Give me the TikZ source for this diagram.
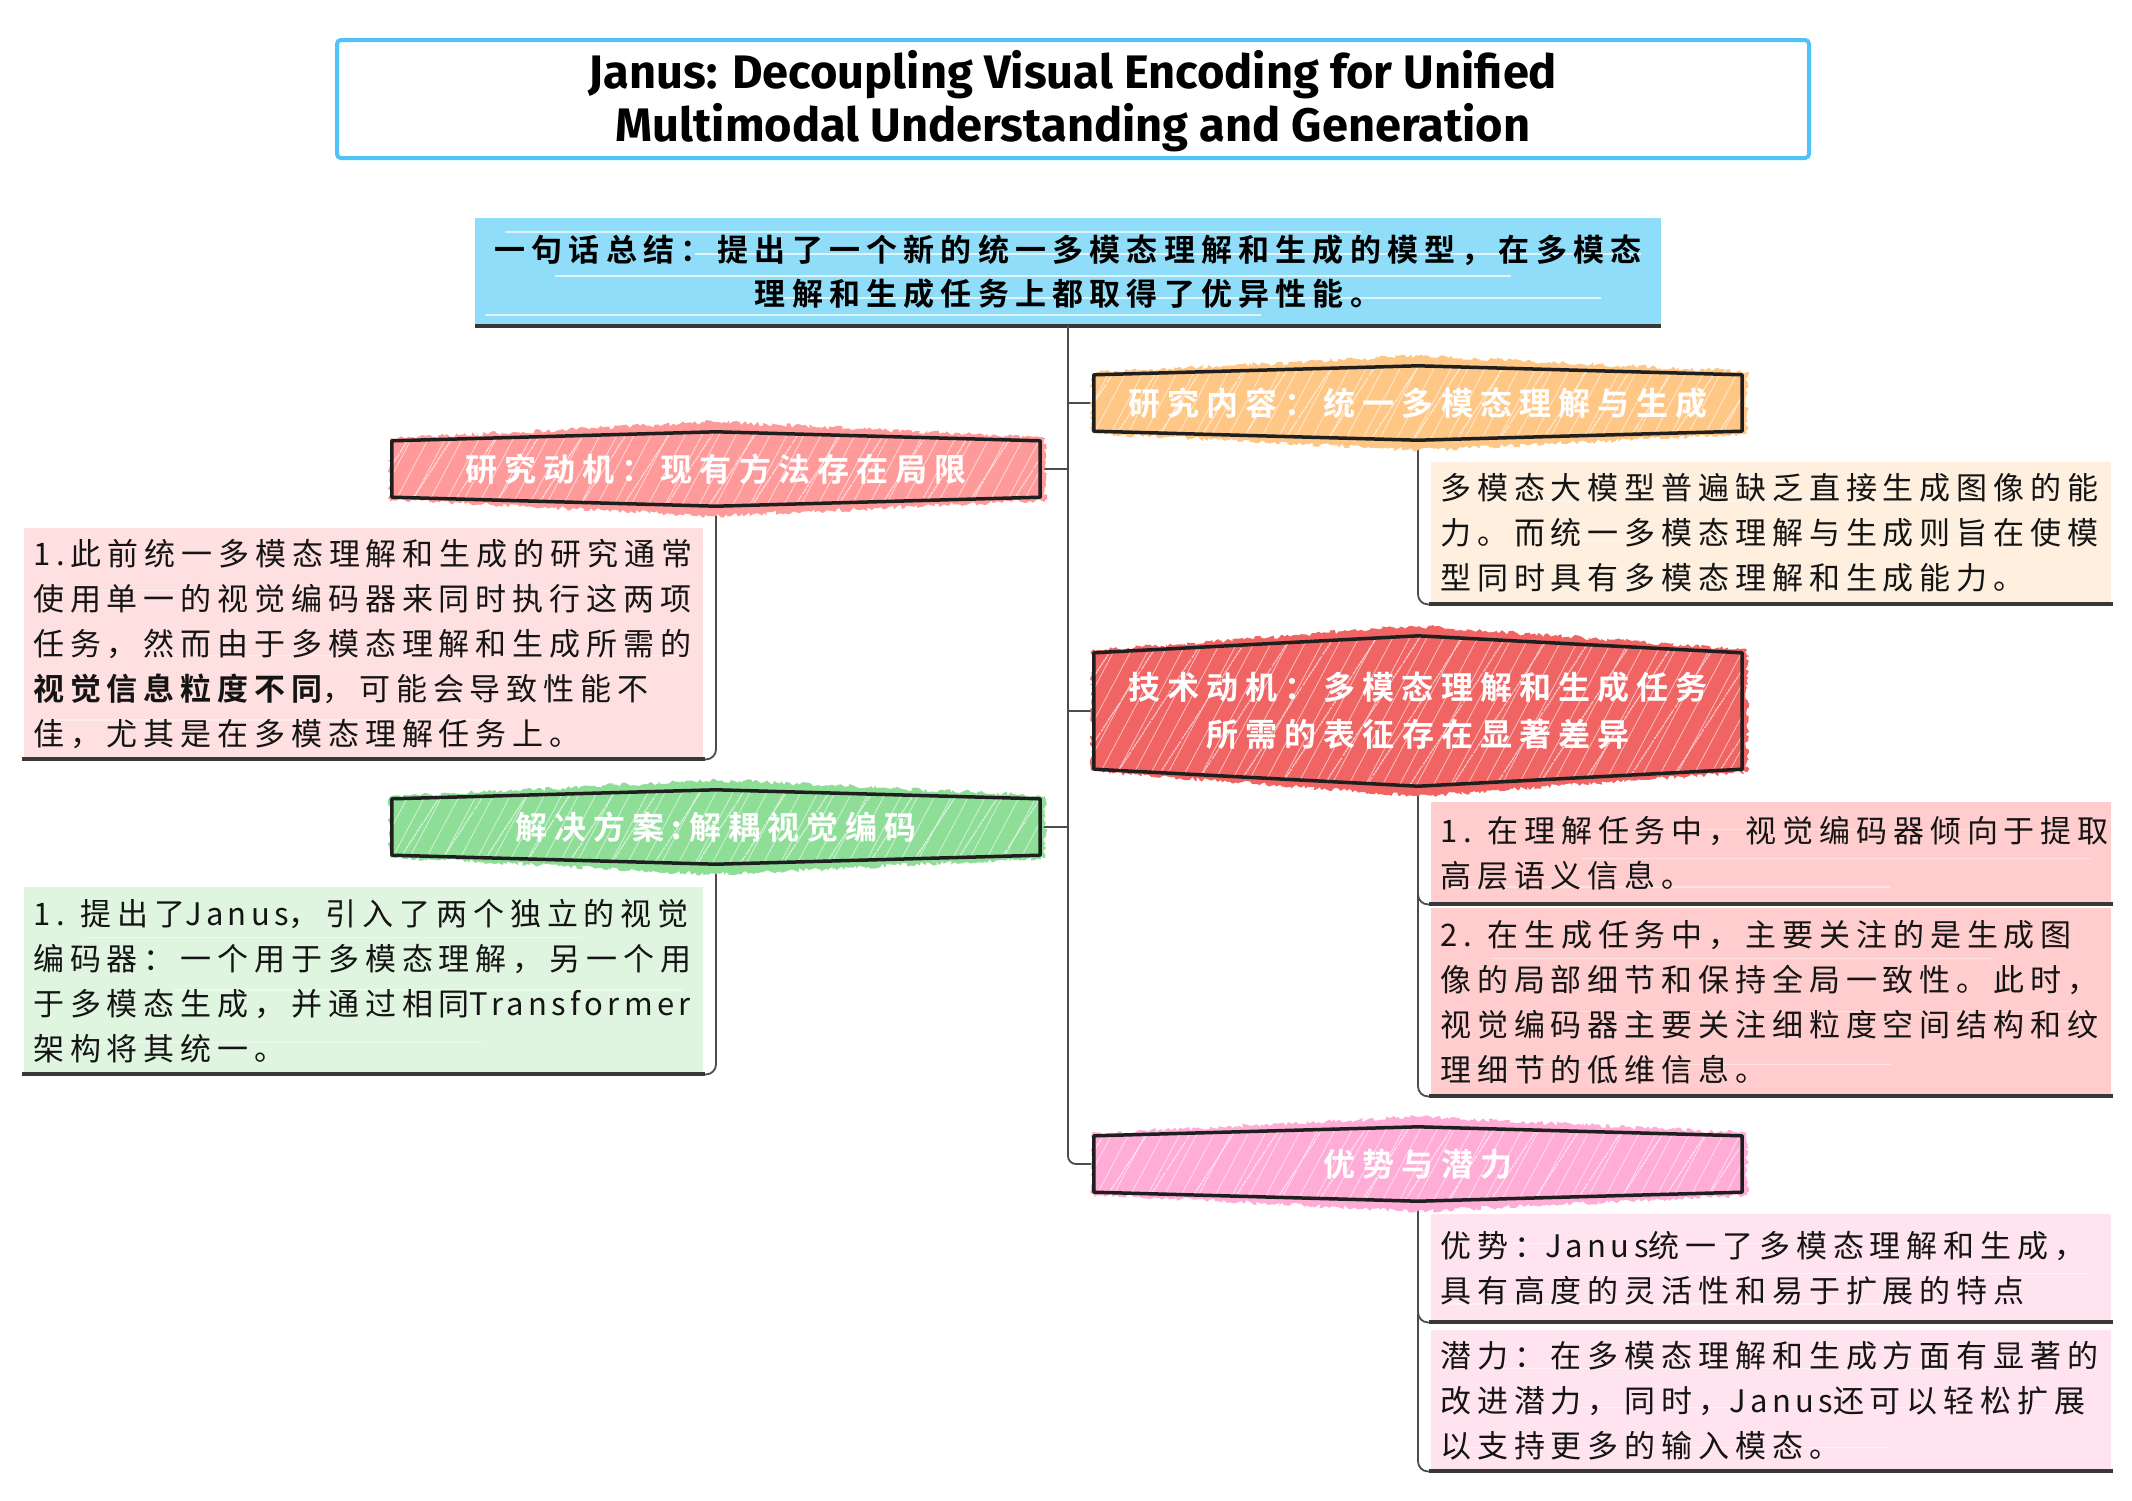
\documentclass[tikz,border=0pt]{standalone}
\usepackage{fontspec}
\usetikzlibrary{calc,patterns.meta,decorations.pathmorphing}

\newfontfamily\bodyfont[LetterSpace=19,BoldFont={Noto Sans CJK SC Bold}]{Noto Sans CJK SC}
\newfontfamily\latfont[LetterSpace=14]{Noto Sans CJK SC}
\newfontfamily\headfont[LetterSpace=22]{Noto Sans CJK SC Bold}
\newfontfamily\sumfont[LetterSpace=20]{Noto Sans CJK SC Bold}
\newfontfamily\titlefont{Fira Sans}
\newcommand\lat[1]{{\latfont #1}}

\definecolor{titleblue}{HTML}{4FC3F7}
\definecolor{sumblue}{HTML}{8FDDF8}
\definecolor{motivhex}{HTML}{FF9A9A}
\definecolor{motivbox}{HTML}{FFE0E0}
\definecolor{solhex}{HTML}{8FDE98}
\definecolor{solbox}{HTML}{E0F5DF}
\definecolor{conthex}{HTML}{FFC785}
\definecolor{contbox}{HTML}{FFEFDF}
\definecolor{techhex}{HTML}{F06464}
\definecolor{techbox}{HTML}{FFCDCD}
\definecolor{advhex}{HTML}{FFACD6}
\definecolor{advbox}{HTML}{FFE4F0}

\pgfdeclarelayer{back}
\pgfsetlayers{back,main}

% faint paper streaks across a filled box
\newcommand\streaks[1]{%
  \draw[streak] ($(#1.north west)!0.27!(#1.south west)+(60,0)$) -- ($(#1.north east)!0.27!(#1.south east)+(-120,0)$);
  \draw[streak] ($(#1.north west)!0.55!(#1.south west)+(150,0)$) -- ($(#1.north east)!0.55!(#1.south east)+(-20,0)$);
  \draw[streak] ($(#1.north west)!0.83!(#1.south west)+(20,0)$) -- ($(#1.north east)!0.83!(#1.south east)+(-220,0)$);
}
% text panel: fill, streaks, heavy bottom rule
\newcommand\panelbg[2]{%
  \fill[#2] (#1.north west) rectangle (#1.south east);
  \streaks{#1}
  \draw[boxline] ([xshift=-2pt]#1.south west) -- ([xshift=2pt]#1.south east);
}
% flattened hexagon banner with rough fill, hatching and outline
\newcommand\banner[3]{%
  \path[fill=#3, decorate, decoration={random steps,segment length=2.5pt,amplitude=2.2pt}]
    ([xshift=-2pt,yshift=2pt]#1.north west) -- ([yshift=#2+10pt]#1.north) -- ([xshift=5pt,yshift=3pt]#1.north east)
    -- ([xshift=5pt,yshift=-3pt]#1.south east) -- ([yshift=-#2-10pt]#1.south) -- ([xshift=-2pt,yshift=-2pt]#1.south west) -- cycle;
  \draw[hexline,
        preaction={fill=#3},
        preaction={pattern={Lines[angle=62,distance=15pt,line width=0.8pt]}, pattern color=white!60!#3},
        preaction={pattern={Lines[angle=57,distance=37pt,line width=1.1pt,xshift=9pt]}, pattern color=white!75!#3}]
    (#1.north west) -- ([yshift=#2]#1.north) -- (#1.north east) -- (#1.south east)
    -- ([yshift=-#2]#1.south) -- (#1.south west) -- cycle;
}

\begin{document}
\begin{tikzpicture}[x=1pt,y=-1pt,
  streak/.style={draw=white, opacity=0.45, line width=1.2pt},
  boxline/.style={draw=black!78, line width=4pt},
  hexline/.style={draw=black!88, line width=3.5pt, line join=round},
  conn/.style={draw=black!70, line width=1.8pt},
  hexnode/.style={minimum width=648pt, minimum height=56pt, inner sep=0pt, align=center,
    text=white, font=\headfont\fontsize{32}{47}\selectfont},
  tbox/.style={anchor=north west, inner xsep=9pt, inner ysep=0pt, align=left,
    font=\bodyfont\fontsize{31}{45}\selectfont, text=black!92}
]
\pgfmathsetseed{7}
\useasboundingbox (0,0) rectangle (2132,1500);

% title
\node[draw=titleblue, line width=4pt, rounded corners=4pt, fill=white,
      minimum width=1472pt, minimum height=118pt, inner sep=0pt, align=center,
      font=\titlefont\bfseries\fontsize{47}{52}\selectfont] (title) at (1073,99)
  {\raisebox{-11pt}[0pt][0pt]{\begin{tabular}{@{}c@{}}Janus: Decoupling Visual Encoding for Unified\\Multimodal Understanding and Generation\end{tabular}}};

% one-line summary
\node[minimum width=1186pt, minimum height=108pt, align=center,
      font=\sumfont\fontsize{31}{44}\selectfont] (sum) at (1068,272)
  {一句话总结：提出了一个新的统一多模态理解和生成的模型，在多模态\\理解和生成任务上都取得了优异性能。};

% branch banners
\node[hexnode] (motiv) at (716,469) {研究动机：现有方法存在局限};
\node[hexnode] (sol) at (716,827) {解决方案:解耦视觉编码};
\node[hexnode] (cont) at (1418,403) {研究内容：统一多模态理解与生成};
\node[hexnode, minimum height=116pt] (tech) at (1418,711) {技术动机：多模态理解和生成任务\\所需的表征存在显著差异};
\node[hexnode] (adv) at (1418,1164) {优势与潜力};

% text panels
\node[tbox, text width=661pt, minimum height=231pt] (motivtxt) at (24,528)
  {1.此前统一多模态理解和生成的研究通常\\
   使用单一的视觉编码器来同时执行这两项\\
   任务，然而由于多模态理解和生成所需的\\
   {\bfseries 视觉信息粒度不同}，可能会导致性能不\\
   佳，尤其是在多模态理解任务上。};
\node[tbox, text width=661pt, minimum height=187pt] (soltxt) at (24,887)
  {1. 提出了\lat{Janus}，引入了两个独立的视觉\\
   编码器：一个用于多模态理解，另一个用\\
   于多模态生成，并通过相同\lat{Transformer}\\
   架构将其统一。};
\node[tbox, text width=662pt, minimum height=142pt] (conttxt) at (1431,462)
  {多模态大模型普遍缺乏直接生成图像的能\\
   力。而统一多模态理解与生成则旨在使模\\
   型同时具有多模态理解和生成能力。};
\node[tbox, text width=662pt, minimum height=102pt] (techa) at (1431,802)
  {1. 在理解任务中，视觉编码器倾向于提取\\
   高层语义信息。};
\node[tbox, text width=662pt, minimum height=188pt] (techb) at (1431,908)
  {2. 在生成任务中，主要关注的是生成图\\
   像的局部细节和保持全局一致性。此时，\\
   视觉编码器主要关注细粒度空间结构和纹\\
   理细节的低维信息。};
\node[tbox, text width=662pt, minimum height=108pt] (adva) at (1431,1214)
  {优势：\lat{Janus}统一了多模态理解和生成，\\
   具有高度的灵活性和易于扩展的特点};
\node[tbox, text width=662pt, minimum height=141pt] (advb) at (1431,1330)
  {潜力：在多模态理解和生成方面有显著的\\
   改进潜力，同时，\lat{Janus}还可以轻松扩展\\
   以支持更多的输入模态。};

\begin{pgfonlayer}{back}
  \fill[white] (0,0) rectangle (2132,1500);

  % summary band
  \fill[sumblue] (sum.north west) rectangle (sum.south east);
  \begin{scope}[draw=white, opacity=0.7, line width=1.6pt]
    \draw ([xshift=30pt,yshift=-14pt]sum.north west) -- ([xshift=-300pt,yshift=-14pt]sum.north east);
    \draw ([xshift=220pt,yshift=-36pt]sum.north west) -- ([xshift=-20pt,yshift=-36pt]sum.north east);
    \draw ([xshift=80pt,yshift=-58pt]sum.north west) -- ([xshift=-150pt,yshift=-58pt]sum.north east);
    \draw ([xshift=300pt,yshift=-80pt]sum.north west) -- ([xshift=-60pt,yshift=-80pt]sum.north east);
    \draw ([xshift=10pt,yshift=-97pt]sum.north west) -- ([xshift=-400pt,yshift=-97pt]sum.north east);
  \end{scope}
  \draw[line width=4.5pt, black!78] (sum.south west) -- (sum.south east);

  % trunk and branches
  \draw[conn, rounded corners=8pt] (sum.south) -- (sum.south |- adv.west) -- (adv.west);
  \draw[conn] (sum.south |- motiv.east) -- (motiv.east);
  \draw[conn] (sum.south |- sol.east) -- (sol.east);
  \draw[conn] (sum.south |- cont.west) -- (cont.west);
  \draw[conn] (sum.south |- tech.west) -- (tech.west);

  % banner to panel leads
  \draw[conn, rounded corners=10pt] (motiv.south) -- (motiv.south |- motivtxt.south) -- (motivtxt.south east);
  \draw[conn, rounded corners=10pt] (sol.south) -- (sol.south |- soltxt.south) -- (soltxt.south east);
  \draw[conn, rounded corners=10pt] (cont.south) -- (cont.south |- conttxt.south) -- (conttxt.south west);
  \draw[conn, rounded corners=10pt] (tech.south) -- (tech.south |- techa.south) -- (techa.south west);
  \draw[conn, rounded corners=10pt] (tech.south) -- (tech.south |- techb.south) -- (techb.south west);
  \draw[conn, rounded corners=10pt] (adv.south) -- (adv.south |- adva.south) -- (adva.south west);
  \draw[conn, rounded corners=10pt] (adv.south) -- (adv.south |- advb.south) -- (advb.south west);

  % panels
  \panelbg{motivtxt}{motivbox}
  \panelbg{soltxt}{solbox}
  \panelbg{conttxt}{contbox}
  \panelbg{techa}{techbox}
  \panelbg{techb}{techbox}
  \panelbg{adva}{advbox}
  \panelbg{advb}{advbox}

  % banners
  \banner{motiv}{9pt}{motivhex}
  \banner{sol}{9pt}{solhex}
  \banner{cont}{9pt}{conthex}
  \banner{tech}{17pt}{techhex}
  \banner{adv}{9pt}{advhex}
\end{pgfonlayer}
\end{tikzpicture}
\end{document}
